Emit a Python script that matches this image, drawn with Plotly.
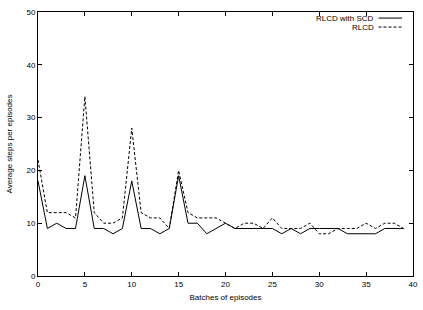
import plotly.graph_objects as go

batches = list(range(40))
rlcd_scd = [18, 9, 10, 9, 9, 19, 9, 9, 8, 9,
            18, 9, 9, 8, 9, 19, 10, 10, 8, 9,
            10, 9, 9, 9, 9, 9, 8, 9, 8, 9,
            9, 9, 9, 8, 8, 8, 8, 9, 9, 9]
rlcd = [22, 12, 12, 12, 11, 34, 12, 10, 10, 11,
        28, 12, 11, 11, 9, 20, 12, 11, 11, 11,
        10, 9, 10, 10, 9, 11, 9, 9, 9, 10,
        8, 8, 9, 9, 9, 10, 9, 10, 10, 9]
x_ticks = [0, 5, 10, 15, 20, 25, 30, 35, 40]
y_ticks = [0, 10, 20, 30, 40, 50]

font = dict(family="Liberation Sans, Arial, sans-serif", size=8, color="#000")

fig = go.Figure()
fig.add_trace(go.Scatter(x=batches, y=rlcd_scd, mode="lines", name="RLCD with SCD",
                         line=dict(color="#000", width=1), showlegend=False))
fig.add_trace(go.Scatter(x=batches, y=rlcd, mode="lines", name="RLCD",
                         line=dict(color="#000", width=1, dash="3px,2px"), showlegend=False))

axis_common = dict(showgrid=False, zeroline=False, showline=True, linecolor="#000",
                   linewidth=1, mirror="ticks", ticks="inside", ticklen=4,
                   tickcolor="#000", tickfont=font)
fig.update_xaxes(range=[0, 40], tickvals=x_ticks, title=dict(text="Batches of episodes", font=font, standoff=6),
                 **axis_common)
fig.update_yaxes(range=[0, 50], tickvals=y_ticks, title=dict(text="Average steps per episodes", font=font, standoff=12),
                 **axis_common)

# legend, gnuplot style (text then sample)
for i, (name, dash) in enumerate([("RLCD with SCD", "solid"), ("RLCD", "3px,2px")]):
    yp = 0.977 - i * 0.034
    fig.add_annotation(x=0.902, y=yp, xref="paper", yref="paper", text=name, showarrow=False,
                       xanchor="right", yanchor="middle", font=font)
    fig.add_shape(type="line", xref="paper", yref="paper", x0=0.908, x1=0.971, y0=yp, y1=yp,
                  line=dict(color="#000", width=1, dash=dash))

fig.update_layout(width=423, height=310, margin=dict(l=38, r=5, t=12, b=34),
                  plot_bgcolor="white", paper_bgcolor="white")
fig.write_html("out.html")
